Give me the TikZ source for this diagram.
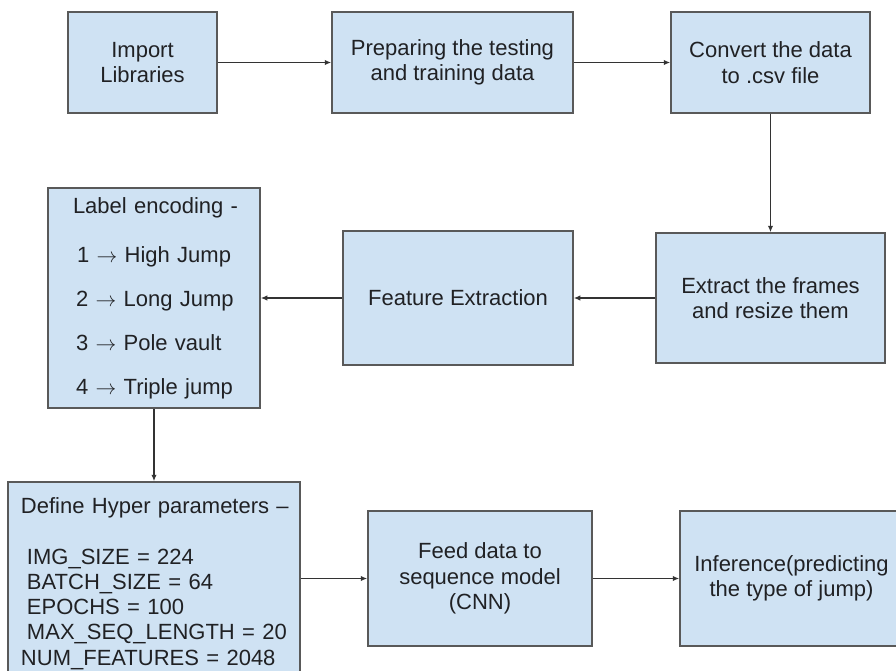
\documentclass[tikz,border=0pt]{standalone}
\usepackage{fontspec}
\setmainfont{Liberation Sans}
\usetikzlibrary{arrows.meta}
\definecolor{boxfill}{HTML}{CFE2F3}
\definecolor{boxline}{HTML}{595959}
\definecolor{wire}{HTML}{333333}
\definecolor{ink}{HTML}{202124}
\newcommand{\ar}{ $\rightarrow$ }
\tikzset{
  stage/.style={draw=boxline, fill=boxfill, line width=1.5pt, text=ink,
    align=center, inner sep=0pt,
    font=\fontsize{22}{25.3}\selectfont},
  flow/.style={draw=wire, line width=1.6pt,
    -{Latex[length=6.5pt,width=5.5pt]}}
}
\begin{document}
\begin{tikzpicture}[x=1pt,y=-1pt]
\useasboundingbox (0,0) rectangle (896,670);
\clip (0,0) rectangle (896,670);

% top row
\node[stage, minimum width=149pt, minimum height=101pt] (imp) at (142.5,62.5)
  {Import\\Libraries};
\node[stage, minimum width=241pt, minimum height=101pt] (prep) at (452.5,62.5)
  {Preparing the testing\\and training data};
\node[stage, minimum width=199pt, minimum height=101pt] (conv) at (770.5,62.5)
  {Convert the data\\to .csv file};

% middle row
\node[stage, minimum width=229pt, minimum height=130pt] (extr) at (770.5,298)
  {Extract the frames\\and resize them};
\node[stage, minimum width=230pt, minimum height=134pt] (feat) at (458,298)
  {Feature Extraction};
\node[stage, align=left, text width=170pt, inner xsep=21pt,
      minimum height=220pt] (lab) at (154,298)
  {\hspace*{4pt}Label encoding -\\[23.7pt]
   \hspace*{8pt}1\ar High Jump\\[18.7pt]
   \hspace*{7pt}2\ar Long Jump\\[18.7pt]
   \hspace*{7pt}3\ar Pole vault\\[18.7pt]
   \hspace*{7pt}4\ar Triple jump};

% bottom row
\node[stage, align=left, text width=284pt, inner xsep=4pt,
      minimum height=193pt] (hyp) at (154,578.5)
  {\rule{0pt}{26pt}\hspace*{9pt}Define Hyper parameters –\\[25.3pt]
   \hspace*{15pt}IMG\_SIZE = 224\\
   \hspace*{15pt}BATCH\_SIZE = 64\\
   \hspace*{15pt}EPOCHS = 100\\
   \hspace*{15pt}MAX\_SEQ\_LENGTH = 20\\
   \hspace*{9pt}NUM\_FEATURES = 2048};
\node[stage, minimum width=224pt, minimum height=135pt] (feed) at (480,578.5)
  {Feed data to\\sequence model\\(CNN)};
\node[stage, minimum width=223pt, minimum height=135pt] (inf) at (791.5,578.5)
  {Inference(predicting\\the type of jump)};

% connectors
\draw[flow] (imp) -- (prep);
\draw[flow] (prep) -- (conv);
\draw[flow] (conv) -- (extr);
\draw[flow] (extr) -- (feat);
\draw[flow] (feat) -- (lab);
\draw[flow] (lab) -- (hyp);
\draw[flow] (hyp) -- (feed);
\draw[flow] (feed) -- (inf);
\end{tikzpicture}
\end{document}
